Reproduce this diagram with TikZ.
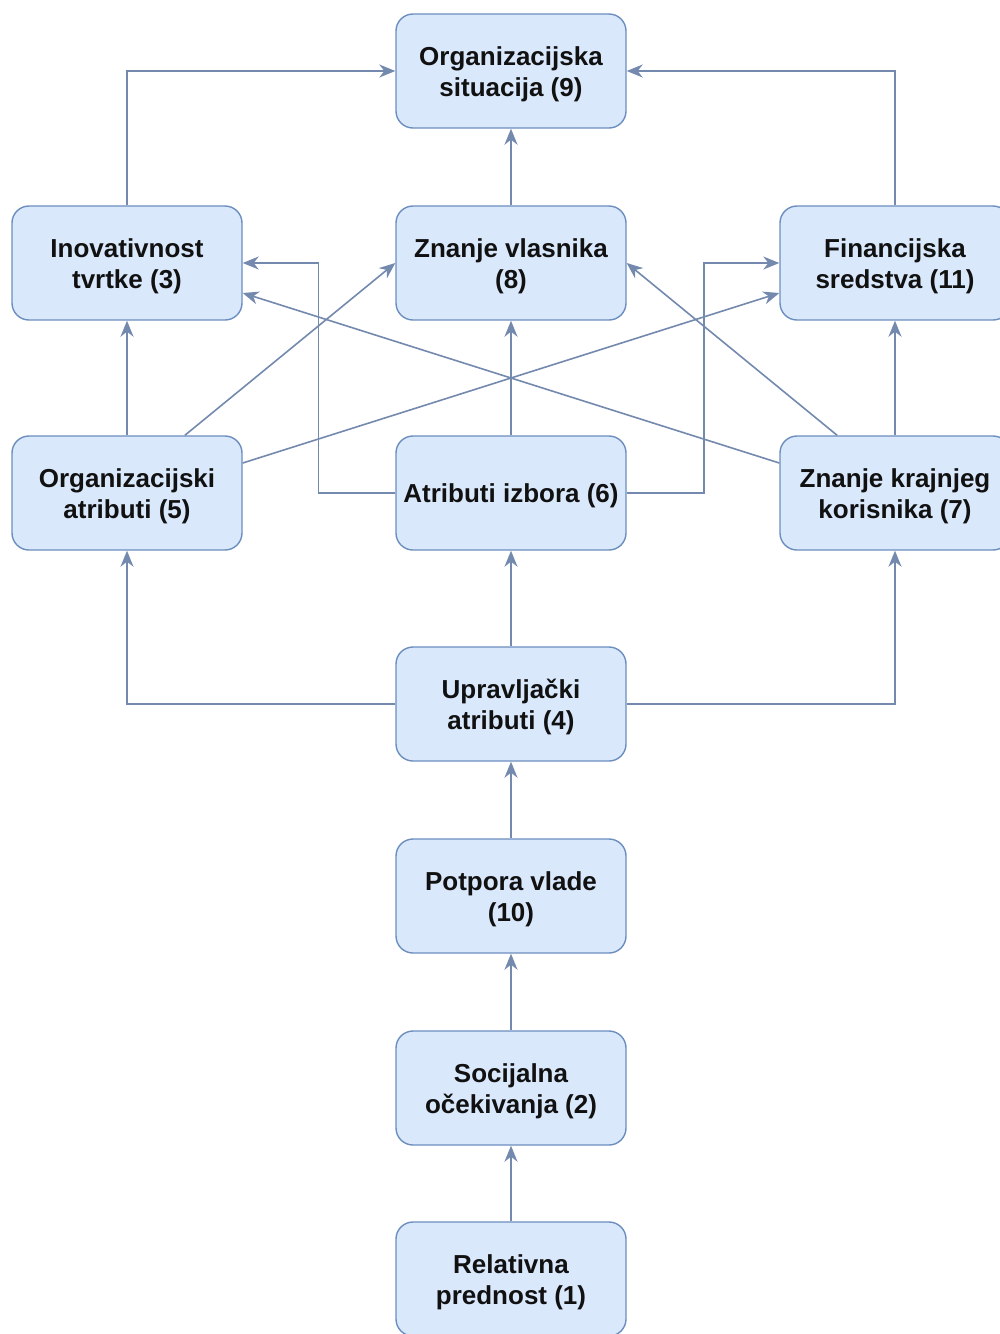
\documentclass[tikz,border=0pt]{standalone}
\usepackage{fontspec}
\setmainfont{Liberation Sans}
\usetikzlibrary{arrows.meta,calc}

\definecolor{boxfill}{HTML}{DAE8FC}
\definecolor{boxline}{HTML}{6C8EBF}
\definecolor{edgecol}{HTML}{7489AE}
\definecolor{txt}{HTML}{111111}

% two-line centred label, set a little below the box centre
\newcommand\boxtext[1]{\raisebox{-3.5pt}[\height][\depth]{\begin{tabular}{@{}c@{}}#1\end{tabular}}}

\tikzset{
  factor/.style={draw=boxline, fill=boxfill, line width=1.4pt,
    rounded corners=17pt, minimum width=230pt, minimum height=114pt,
    inner sep=0pt, text=txt,
    font=\bfseries\fontsize{26}{31}\selectfont},
  link/.style={draw=edgecol, line width=1.6pt,
    -{Stealth[length=16pt,width=13pt,inset=5pt]}},
}

\begin{document}
\begin{tikzpicture}[x=1pt,y=-1pt]
  \useasboundingbox[fill=white] (0,0) rectangle (1000,1334);

  % boxes
  \node[factor] (n9)  at (511,71)   {\boxtext{Organizacijska\\situacija (9)}};
  \node[factor] (n3)  at (127,263)  {\boxtext{Inovativnost\\tvrtke (3)}};
  \node[factor] (n8)  at (511,263)  {\boxtext{Znanje vlasnika\\(8)}};
  \node[factor] (n11) at (895,263)  {\boxtext{Financijska\\sredstva (11)}};
  \node[factor] (n5)  at (127,493)  {\boxtext{Organizacijski\\atributi (5)}};
  \node[factor] (n6)  at (511,493)  {\boxtext{Atributi izbora (6)}};
  \node[factor] (n7)  at (895,493)  {\boxtext{Znanje krajnjeg\\korisnika (7)}};
  \node[factor] (n4)  at (511,704)  {\boxtext{Upravljački\\atributi (4)}};
  \node[factor] (n10) at (511,896)  {\boxtext{Potpora vlade\\(10)}};
  \node[factor] (n2)  at (511,1088) {\boxtext{Socijalna\\očekivanja (2)}};
  \node[factor] (n1)  at (511,1279) {\boxtext{Relativna\\prednost (1)}};

  % top level
  \draw[link] (n3.north) |- (n9.west);
  \draw[link] (n11.north) |- (n9.east);
  \draw[link] (n8) -- (n9);

  % into the second row
  \draw[link] (n5) -- (n3);
  \draw[link] ($(n5.north)!0.5!(n5.north east)$) -- (n8.west);
  \draw[link] ($(n5.east)+(0,-30)$) -- ($(n11.west)+(0,30)$);
  \draw[link] (n6.west) -- ($(n6.west)+(-77,0)$) |- (n3.east);
  \draw[link] (n6.east) -- ($(n6.east)+(77,0)$) |- (n11.west);
  \draw[link] (n6) -- (n8);
  \draw[link] ($(n7.west)+(0,-30)$) -- ($(n3.east)+(0,30)$);
  \draw[link] ($(n7.north)!0.5!(n7.north west)$) -- (n8.east);
  \draw[link] (n7) -- (n11);

  % into the third row
  \draw[link] (n4.west) -| (n5.south);
  \draw[link] (n4.east) -| (n7.south);
  \draw[link] (n4) -- (n6);

  % lower chain
  \draw[link] (n10) -- (n4);
  \draw[link] (n2) -- (n10);
  \draw[link] (n1) -- (n2);
\end{tikzpicture}
\end{document}
